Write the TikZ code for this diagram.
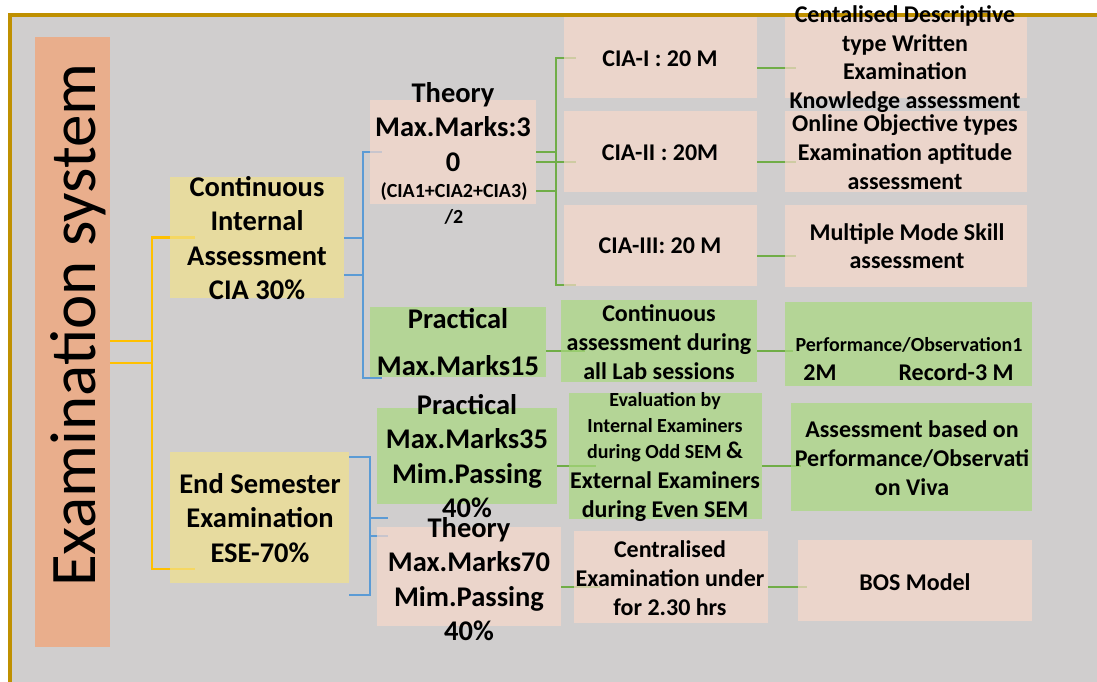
\documentclass[tikz,border=0pt]{standalone}
\usepackage{fontspec}
\setmainfont{Carlito}
\usetikzlibrary{calc}
\definecolor{bggray}{RGB}{208,206,206}
\definecolor{frame}{RGB}{191,144,0}
\definecolor{exorange}{RGB}{233,174,140}
\definecolor{pinkf}{RGB}{247,216,202}
\definecolor{greenf}{RGB}{169,217,127}
\definecolor{yellowf}{RGB}{242,225,140}
\definecolor{lgold}{RGB}{255,192,0}
\definecolor{lblue}{RGB}{91,155,213}
\definecolor{lgreen}{RGB}{112,173,71}
\tikzset{
  big/.style={font=\bfseries\fontsize{28.5}{34.5}\selectfont, align=center, inner sep=0pt},
  med/.style={font=\bfseries\fontsize{24}{28.7}\selectfont, align=center, inner sep=0pt},
  sml/.style={font=\bfseries\fontsize{20}{26}\selectfont, align=center, inner sep=0pt},
  yl/.style={draw=lgold, line width=2.8pt},
  bl/.style={draw=lblue, line width=2.8pt},
  gl/.style={draw=lgreen, line width=2.8pt},
  slot/.style={inner sep=0pt, minimum width=#1},
}
\begin{document}
\begin{tikzpicture}[x=1pt,y=-1pt]
\useasboundingbox (0,0) rectangle (1097,682);
% background and frame
\fill[white] (0,0) rectangle (1097,682);
\fill[bggray] (10,15) rectangle (1097,682);
\draw[frame, line width=4pt] (10,682) -- (10,15) -- (1097,15);

% boxes (positions only, filled later over the lines)
\path
 node[slot=75pt, minimum height=610pt] (ex) at (72.5,342) {}
 node[slot=174pt, minimum height=121pt] (cia) at (257,237.5) {}
 node[slot=179pt, minimum height=131pt] (ese) at (259.5,517.5) {}
 node[slot=166pt, minimum height=104pt] (thc) at (453,152) {}
 node[slot=176pt, minimum height=70pt] (prc) at (458,342) {}
 node[slot=180pt, minimum height=96pt] (prE) at (467,456) {}
 node[slot=184pt, minimum height=99pt] (thE) at (469,576.5) {}
 node[slot=193pt, minimum height=81pt] (c1) at (660.5,57.5) {}
 node[slot=193pt, minimum height=81pt] (c2) at (660.5,151.5) {}
 node[slot=193pt, minimum height=81pt] (c3) at (660.5,245.5) {}
 node[slot=196pt, minimum height=82pt] (cont) at (659,341) {}
 node[slot=193pt, minimum height=126pt] (eval) at (665.5,456) {}
 node[slot=194pt, minimum height=92pt] (cent) at (671,577) {}
 node[slot=242pt, minimum height=81pt] (r1) at (906,57.5) {}
 node[slot=242pt, minimum height=81pt] (r2) at (906,151.5) {}
 node[slot=242pt, minimum height=82pt] (r3) at (906,246) {}
 node[slot=247pt, minimum height=84pt] (perf) at (908.5,344) {}
 node[slot=241pt, minimum height=108pt] (asb) at (911.5,457) {}
 node[slot=234pt, minimum height=81pt] (bos) at (915,580.5) {};

% yellow connectors
\coordinate (yj) at (152,341);
\draw[yl] (ex.east |- 0,341) -- (yj);
\draw[yl] (ex.east |- 0,363) -- (yj |- 0,363);
\draw[yl] ($(cia.west)+(25,0)$) -| (yj |- 0,569) -- ($(ese.west |- 0,569)+(25,0)$);

% blue connectors (CIA)
\coordinate (bj) at (363,238);
\draw[bl] (cia.east |- 0,238) -- (bj);
\draw[bl] (cia.east |- 0,275) -- (bj |- 0,275);
\draw[bl] ($(thc.west)+(12,0)$) -| (bj |- 0,378) -- ($(prc.west |- 0,378)+(12,0)$);
% blue connectors (ESE)
\coordinate (bk) at (370,518);
\draw[bl] (ese.east |- 0,457) -| (bk |- 0,595) -- (ese.east |- 0,595);
\draw[bl] (bk) -- ($(prE.west |- 0,518)+(11,0)$);
\draw[bl] (bk |- 0,536) -- ($(thE.west |- 0,536)+(11,0)$);

% green connectors from theory CIA
\coordinate (gj) at (556,152);
\draw[gl] (thc.east |- 0,152) -- (gj);
\draw[gl] (thc.east |- 0,191) -- (gj |- 0,191);
\draw[gl] (thc.east |- 0,162) -- ($(c2.west |- 0,162)+(12,0)$);
\draw[gl] ($(c1.west |- 0,58)+(12,0)$) -| (gj |- 0,285) -- ($(c3.west |- 0,285)+(12,0)$);
% green connectors to the right column
\draw[gl] (c1.east |- 0,68) -- ($(r1.west |- 0,68)+(11,0)$);
\draw[gl] (c2.east |- 0,162) -- ($(r2.west |- 0,162)+(11,0)$);
\draw[gl] (c3.east |- 0,256) -- ($(r3.west |- 0,256)+(11,0)$);
\draw[gl] (prc.east |- 0,351) -- ($(cont.west |- 0,351)+(24,0)$);
\draw[gl] (cont.east |- 0,351) -- ($(perf.west |- 0,351)+(8,0)$);
\draw[gl] (prE.east |- 0,466) -- ($(eval.west |- 0,466)+(27,0)$);
\draw[gl] (eval.east |- 0,466) -- ($(asb.west |- 0,466)+(10,0)$);
\draw[gl] (thE.east |- 0,587) -- ($(cent.west |- 0,587)+(26,0)$);
\draw[gl] (cent.east |- 0,587) -- ($(bos.west |- 0,587)+(9,0)$);

% fills
\fill[exorange] (ex.south west) rectangle (ex.north east);
\foreach \n in {cia,ese} {\fill[yellowf, fill opacity=0.7] (\n.south west) rectangle (\n.north east);}
\foreach \n in {thc,thE,c1,c2,c3,cent,r1,r2,r3,bos} {\fill[pinkf, fill opacity=0.7] (\n.south west) rectangle (\n.north east);}
\foreach \n in {prc,prE,cont,eval,perf,asb} {\fill[greenf, fill opacity=0.7] (\n.south west) rectangle (\n.north east);}

% texts
\node[font=\fontsize{65}{70}\selectfont, rotate=90, anchor=base, inner sep=0pt] (ext) at (95,325) {Examination system};
\node[big] (ciat) at (257,238) {Continuous\\Internal\\Assessment\\CIA 30\%};
\node[big] (eset) at (260,518) {End Semester\\Examination\\ESE-70\%};
\node[big] (thct) at (453,127) {Theory\\Max.Marks:3\\0};
\node[sml] (thct2) at (454,204) {(CIA1+CIA2+CIA3)\\/2};
\node[big] (prct) at (458,342) {Practical\\[12.5pt]Max.Marks15};
\node[big] (prEt) at (467,456) {Practical\\Max.Marks35\\Mim.Passing\\40\%};
\node[big] (thEt) at (469,579) {Theory\\Max.Marks70\\Mim.Passing\\40\%};
\node[med] (c1t) at (660,59) {CIA-I : 20 M};
\node[med] (c2t) at (660,153) {CIA-II : 20M};
\node[med] (c3t) at (660,246) {CIA-III: 20 M};
\node[med] (r1t) at (905,59) {Centalised Descriptive\\type Written\\Examination\\Knowledge assessment};
\node[med] (r2t) at (905,152) {Online Objective types\\Examination aptitude\\assessment};
\node[med] (r3t) at (907,246) {Multiple Mode Skill\\assessment};
\node[med] (contt) at (659,342) {Continuous\\assessment during\\all Lab sessions};
\node[sml] (perft) at (909,345) {Performance/Observation1};
\node[med] (perft2) at (908.5,372) {2M\hspace{62pt}Record-3 M};
\node[sml] (evalt) at (665,427) {Evaluation by\\Internal Examiners\\during Odd SEM {\fontsize{24}{26}\selectfont\&}};
\node[med] (evalt2) at (665,496.5) {External Examiners\\during Even SEM};
\node[med] (asbt) at (912,458) {Assessment based on\\Performance/Observati\\on Viva};
\node[med] (centt) at (670,578) {Centralised\\Examination under\\for 2.30 hrs};
\node[med] (bost) at (915,582) {BOS Model};
\end{tikzpicture}
\end{document}
